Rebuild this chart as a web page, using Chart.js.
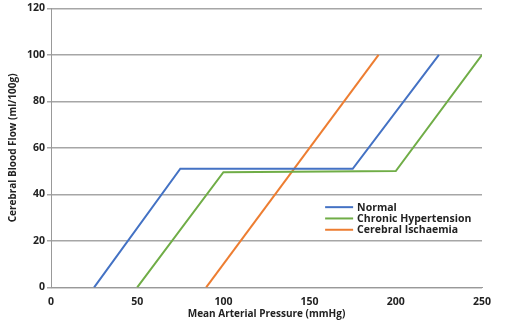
<!DOCTYPE html>
<html>
<head>
<meta charset="utf-8">
<script src="https://cdn.jsdelivr.net/npm/chart.js@4.4.0/dist/chart.umd.min.js"></script>
<style>
  body { margin: 0; background: #fff; }
  #wrap { width: 506px; height: 324px; }
</style>
</head>
<body>
<div id="wrap"><canvas id="cbfChart"></canvas></div>
<script>
// values: [pressure mmHg, flow ml/100g]
var normalX = [25, 75, 175, 225];
var normalY = [0, 51, 51, 100];
var hyperX = [50, 100, 200, 250];
var hyperY = [0, 49.5, 50, 100];
var ischX = [90, 190];
var ischY = [0, 100];
var xTicks = [0, 50, 100, 150, 200, 250];
var yTicks = [0, 20, 40, 60, 80, 100, 120];

function toPoints(xs, ys) {
    return xs.map(function (x, i) { return { x: x, y: ys[i] }; });
}

var FONT = "'Open Sans', 'DejaVu Sans', sans-serif";
Chart.defaults.font.family = FONT;
Chart.defaults.font.weight = 'bold';
Chart.defaults.color = '#222';

// legend drawn inside the plot area, like the original
var innerLegend = {
    id: 'innerLegend',
    afterDraw: function (chart) {
        var ctx = chart.ctx;
        var x0 = chart.scales.x.getPixelForValue(159);
        var y0 = chart.scales.y.getPixelForValue(34.5);
        ctx.save();
        ctx.font = "bold 10.5px " + FONT;
        ctx.textBaseline = 'middle';
        chart.data.datasets.forEach(function (ds, i) {
            var y = y0 + i * 11.3;
            ctx.strokeStyle = ds.borderColor;
            ctx.lineWidth = 2;
            ctx.beginPath();
            ctx.moveTo(x0, y);
            ctx.lineTo(x0 + 28, y);
            ctx.stroke();
            ctx.fillStyle = '#222';
            ctx.fillText(ds.label, x0 + 32, y + 0.5);
        });
        ctx.restore();
    }
};

var ctx = document.getElementById('cbfChart').getContext('2d');
var cbfChart = new Chart(ctx, {
    type: 'line',
    data: {
        datasets: [{
            label: 'Normal',
            data: toPoints(normalX, normalY),
            borderColor: '#4472C4'
        }, {
            label: 'Chronic Hypertension',
            data: toPoints(hyperX, hyperY),
            borderColor: '#70AD47'
        }, {
            label: 'Cerebral Ischaemia',
            data: toPoints(ischX, ischY),
            borderColor: '#ED7D31'
        }]
    },
    options: {
        responsive: true,
        maintainAspectRatio: false,
        animation: false,
        layout: { padding: { top: 2, right: 24, left: 7, bottom: 4 } },
        elements: {
            line: { borderWidth: 2, tension: 0, fill: false },
            point: { radius: 0 }
        },
        plugins: {
            legend: { display: false },
            tooltip: { enabled: false }
        },
        scales: {
            x: {
                type: 'linear',
                min: 0,
                max: 250,
                afterBuildTicks: function (axis) {
                    axis.ticks = xTicks.map(function (v) { return { value: v }; });
                },
                grid: { display: false },
                border: { display: true, color: '#999', width: 1 },
                ticks: { font: { size: 10.5, weight: 'bold' }, padding: 0 },
                title: {
                    display: true,
                    text: 'Mean Arterial Pressure (mmHg)',
                    font: { size: 10, weight: 'bold' },
                    padding: { top: 0, bottom: 0 }
                }
            },
            y: {
                min: 0,
                max: 120,
                afterBuildTicks: function (axis) {
                    axis.ticks = yTicks.map(function (v) { return { value: v }; });
                },
                grid: { color: '#a6a6a6', lineWidth: 1.5, drawTicks: true, tickLength: 4 },
                border: { display: true, color: '#999', width: 1 },
                ticks: { font: { size: 10.5, weight: 'bold' }, padding: 2 },
                title: {
                    display: true,
                    text: 'Cerebral Blood Flow (ml/100g)',
                    font: { size: 10, weight: 'bold' },
                    padding: { top: 0, bottom: 6 }
                }
            }
        }
    },
    plugins: [innerLegend]
});
</script>
</body>
</html>
